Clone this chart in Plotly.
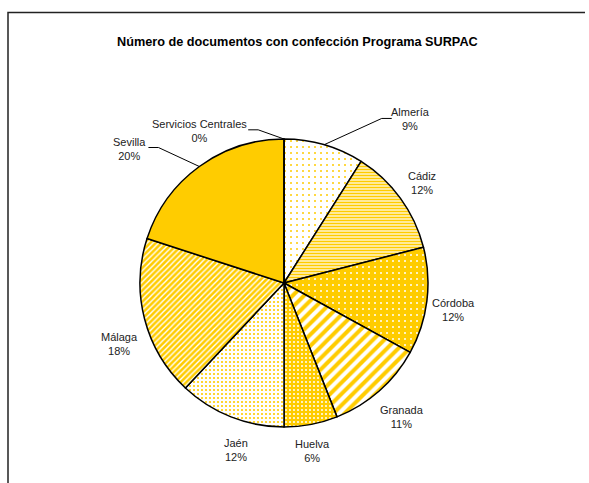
import math
import plotly.graph_objects as go

# ---- data ----
categories = ["Almería", "Cádiz", "Córdoba", "Granada", "Huelva", "Jaén",
              "Málaga", "Sevilla", "Servicios Centrales"]
values = [9, 12, 12, 11, 6, 12, 18, 20, 0]
title = "Número de documentos con confección Programa SURPAC"

# ---- styles ----
YEL = "#FFCC00"
WHITE = "#FFFFFF"
pat_shape = [".", "-", ".", "/", ".", ".", "/", "", ""]
pat_fg = [YEL, YEL, WHITE, YEL, WHITE, YEL, WHITE, YEL, YEL]
pat_bg = [WHITE, WHITE, YEL, WHITE, YEL, WHITE, YEL, YEL, YEL]
pat_size = [6, 3, 6, 8, 4, 4, 4, 6, 6]
pat_sol = [0.09, 0.6, 0.09, 0.5, 0.2, 0.22, 0.35, 0.5, 0.5]

# label placement: angular nudge (deg) from slice middle, and radius (px)
label_nudge = [21.6, 0, 2, 0, 1, -5.5, -6, -13, -29]
label_radius = [207, 170, 172, 178, 170, 174, 176, 205, 174]
leader = [True, False, False, False, False, False, False, True, True]

W, H = 589, 483
CX, CY, R = 284, 283, 144
FONT = "Liberation Sans, Arial, sans-serif"

def px2paper(x, y):
    return x / W, 1 - y / H

def path_of(pts):
    return "M " + " L ".join(f"{px2paper(x, y)[0]},{px2paper(x, y)[1]}" for x, y in pts)

fig = go.Figure(go.Pie(
    labels=categories, values=values, sort=False, direction="clockwise",
    rotation=0, textinfo="none", hoverinfo="label+percent",
    domain=dict(x=[(CX - R) / W, (CX + R) / W],
                y=[1 - (CY + R) / H, 1 - (CY - R) / H]),
    marker=dict(colors=pat_bg, line=dict(color="#000000", width=1.5),
                pattern=dict(shape=pat_shape, fgcolor=pat_fg, bgcolor=pat_bg,
                             size=pat_size, solidity=pat_sol, fillmode="replace")),
))

total = sum(values)
cum = 0
annotations = []
shapes = []
for i, (c, v) in enumerate(zip(categories, values)):
    mid = (cum + v / 2) / total * 360
    cum += v
    th = math.radians(mid + label_nudge[i])
    lx = CX + label_radius[i] * math.sin(th)
    ly = CY - label_radius[i] * math.cos(th)
    pct = round(v / total * 100)
    ax, ay = px2paper(lx, ly)
    annotations.append(dict(x=ax, y=ay, xref="paper", yref="paper",
                            text=f"{c}<br>{pct}%", showarrow=False,
                            font=dict(family=FONT, size=11, color="#222222"),
                            align="center", xanchor="center", yanchor="middle"))
    if leader[i]:
        thm = math.radians(mid)
        ex = CX + R * math.sin(thm)
        ey = CY - R * math.cos(thm)
        hw = len(c) * 2.45 + 2
        side = 1 if ex > lx else -1
        kx = lx + side * hw
        bx = kx + side * 10
        yy = ly - 1
        shapes.append(dict(type="path", path=path_of([(ex, ey), (bx, yy), (kx, yy)]),
                           xref="paper", yref="paper",
                           line=dict(color="#000000", width=1)))

# frame (left and top edges)
shapes.append(dict(type="path", path=path_of([(8, 483), (8, 12.5), (585, 12.5)]),
                   xref="paper", yref="paper", layer="above",
                   line=dict(color="#222222", width=1.5)))

tx, ty = px2paper(297, 42)
annotations.append(dict(x=tx, y=ty, xref="paper", yref="paper", text=f"<b>{title}</b>",
                        showarrow=False, font=dict(family=FONT, size=12.7, color="#000000"),
                        xanchor="center", yanchor="middle"))

fig.update_layout(width=W, height=H, margin=dict(l=0, r=0, t=0, b=0),
                  paper_bgcolor="white", plot_bgcolor="white", showlegend=False,
                  annotations=annotations, shapes=shapes)
fig.write_html("out.html", config={"displayModeBar": False},
               post_script="document.body.style.margin='0';document.body.style.overflow='hidden';")
